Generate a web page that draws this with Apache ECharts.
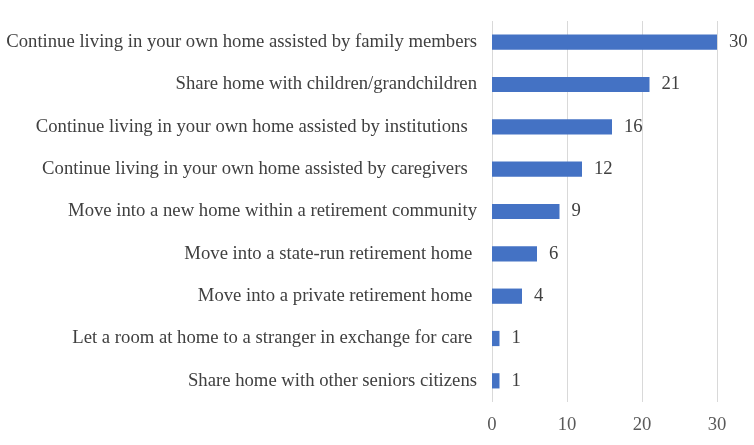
<!DOCTYPE html>
<html><head><meta charset="utf-8">
<script src="https://cdn.jsdelivr.net/npm/echarts@6/dist/echarts.min.js"></script>
<style>html,body{margin:0;padding:0;background:#fff}#c{width:754px;height:445px}</style>
</head><body><div id="c"></div>
<script>
const categories = [
  "Share home with other seniors citizens",
  "Let a room at home to a stranger in exchange for care ",
  "Move into a private retirement home ",
  "Move into a state-run retirement home ",
  "Move into a new home within a retirement community",
  "Continue living in your own home assisted by caregivers  ",
  "Continue living in your own home assisted by institutions  ",
  "Share home with children/grandchildren",
  "Continue living in your own home assisted by family members"
];
const values = [1, 1, 4, 6, 9, 12, 16, 21, 30];
const xTicks = [0, 10, 20, 30];
const font = "'Liberation Serif','Times New Roman',serif";
const chart = echarts.init(document.getElementById('c'));
chart.setOption({
  animation: false,
  grid: {left: 492, right: 37, top: 21, bottom: 43, containLabel: false},
  xAxis: {
    type: 'value', min: xTicks[0], max: xTicks[xTicks.length-1], interval: 10,
    axisLine: {show: false}, axisTick: {show: false},
    splitLine: {show: true, lineStyle: {color: '#d9d9d9', width: 1}},
    axisLabel: {color: '#595959', fontFamily: font, fontSize: 18.7, margin: 14}
  },
  yAxis: {
    type: 'category', data: categories,
    axisLine: {show: false}, axisTick: {show: false},
    axisLabel: {color: '#404040', fontFamily: font, fontSize: 18.7, margin: 15}
  },
  series: [{
    type: 'bar', data: values, barWidth: '36%',
    itemStyle: {color: '#4472C4'},
    label: {show: true, position: 'right', distance: 12, color: '#404040', fontFamily: font, fontSize: 18.7}
  }]
});
</script></body></html>
